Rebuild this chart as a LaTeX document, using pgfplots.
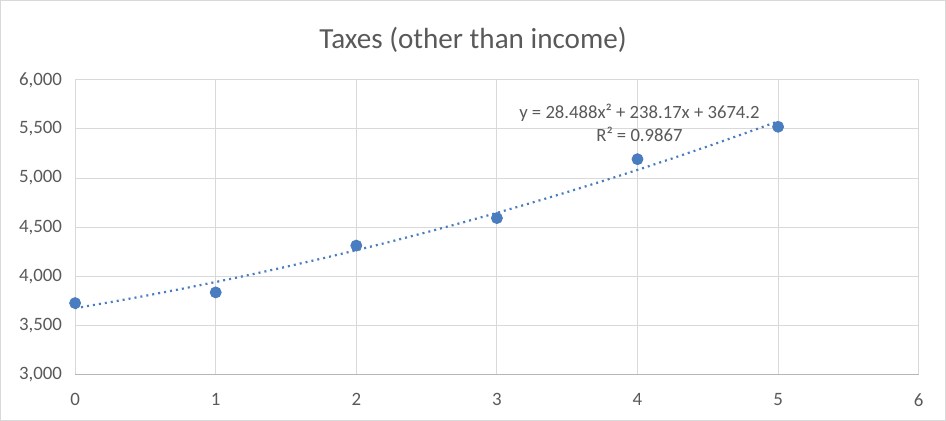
\documentclass[border=0pt]{standalone}
\usepackage{pgfplots}
\pgfplotsset{compat=1.18}
\usepackage{fontspec}
\setmainfont{Carlito}
\definecolor{txt}{HTML}{595959}
\definecolor{grd}{HTML}{D9D9D9}
\definecolor{bl}{HTML}{4A7DBF}
\begin{document}
\begin{tikzpicture}
\draw[grd, line width=0.5pt] (-37.15pt,-22.85pt) rectangle (433.35pt,186.15pt);
\begin{axis}[
  at={(0,0)}, anchor=south west,
  scale only axis, width=420pt, height=146.65pt,
  xmin=0, xmax=6, ymin=3000, ymax=6000,
  xtick={0,1,2,3,4,5,6}, ytick={3000,3500,4000,4500,5000,5500,6000},
  grid=major, major grid style={grd, line width=0.5pt},
  axis line style={draw=none},
  major tick length=0pt,
  scaled y ticks=false,
  /pgf/number format/assume math mode=true,
  /pgf/number format/1000 sep={,},
  ticklabel style={font=\fontsize{9.4}{11}\selectfont, text=txt},
  yticklabel style={xshift=-3pt},
  xticklabel style={yshift=-6pt},
  clip=false,
]
\draw[grd!80!black!90, line width=0.5pt] (rel axis cs:0,0) -- (rel axis cs:1,0);
\addplot[bl, line width=1.1pt, dash pattern=on 1pt off 2pt, no markers] coordinates {
(0,3674.2) (0.25,3735.52) (0.5,3800.41) (0.75,3868.85) (1,3940.86)
(1.25,4016.43) (1.5,4095.55) (1.75,4178.24) (2,4264.49) (2.25,4354.30)
(2.5,4447.68) (2.75,4544.61) (3,4645.10) (3.25,4749.16) (3.5,4856.77)
(3.75,4967.95) (4,5082.69) (4.25,5200.99) (4.5,5322.85) (4.75,5448.27)
(5,5577.25)};
\addplot[only marks, mark=*, mark size=2.75pt, bl, mark options={fill=bl, draw=bl}] coordinates {
(0,3726) (1,3835) (2,4312) (3,4592) (4,5192) (5,5522)};
\node[align=center, text=txt, font=\fontsize{9.3}{11.2}\selectfont] at (axis cs:4.014,5560) {y = 28.488x² + 238.17x + 3674.2\\R² = 0.9867};
\end{axis}
\node[text=txt, font=\fontsize{14.5}{17}\selectfont] at (198.1pt,166.6pt) {Taxes (other than income)};
\end{tikzpicture}
\end{document}
